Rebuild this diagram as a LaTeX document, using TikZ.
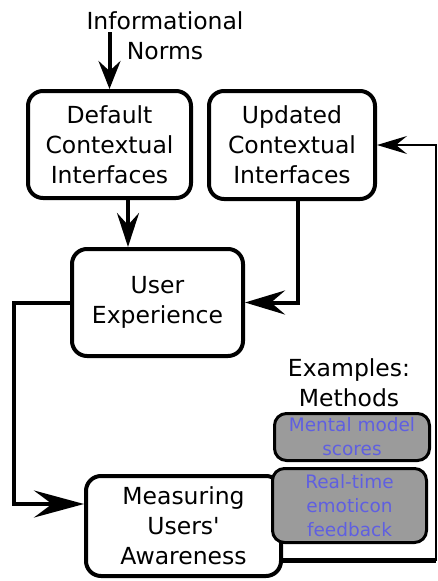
\documentclass[tikz,border=0pt]{standalone}
\usepackage{fontspec}
\setmainfont{DejaVu Sans}
\newfontfamily\qfont{DejaVu Sans}
\usetikzlibrary{arrows.meta}
\definecolor{boxgray}{RGB}{155,155,155}
\definecolor{methblue}{RGB}{95,95,225}
\begin{document}
\begin{tikzpicture}[x=1pt,y=-1pt,
  box/.style={draw, line width=4pt, rounded corners=15pt, align=center,
    font=\fontsize{23.5}{30}\selectfont, inner sep=0pt, fill=white},
  gbox/.style={draw, line width=3pt, rounded corners=12pt, fill=boxgray, align=center,
    text=methblue, font=\fontsize{18.5}{24}\selectfont, inner sep=0pt},
  lbl/.style={align=center, font=\fontsize{23.5}{30}\selectfont, inner sep=0pt},
  conn/.style={line width=4pt},
]
\useasboundingbox (0,0) rectangle (437,581);

\coordinate (in1) at (109.5,32);
\coordinate (d1) at (128,0);
\coordinate (u1) at (298,0);
\coordinate (l1) at (14,504);
\coordinate (r1) at (436,560);

\node[box, minimum width=163pt, minimum height=107pt] (dflt) at (109.5,144.5) {Default\\Contextual\\Interfaces};
\node[box, minimum width=166pt, minimum height=108pt] (upd) at (292,145) {Updated\\Contextual\\Interfaces};
\node[box, minimum width=171pt, minimum height=107pt] (ue) at (157.5,302.5) {User\\Experience};
\node[box, minimum width=195pt, minimum height=100pt] (meas) at (183.5,526) {Measuring\\{\qfont Users'}\\Awareness};

\node[lbl] (norms) at (165,36) {Informational\\Norms};
\node[lbl] (ex) at (349,383) {Examples:\\Methods};

\draw[conn,-{Stealth[length=28pt,width=22pt,inset=10pt]}] (in1) -- (dflt.north);
\draw[conn,-{Stealth[length=34pt,width=22pt,inset=12pt]}] (d1 |- dflt.south) -- (d1 |- ue.north);
\draw[conn,-{Stealth[length=40pt,width=24pt,inset=14pt]}] (u1 |- upd.south) |- (ue.east);
\draw[conn,-{Stealth[length=50pt,width=27pt,inset=18pt]}] (ue.west) -| (l1) -- (meas.west |- l1);
\draw[line width=2pt,-{Stealth[length=30pt,width=18pt,inset=11pt]}] (meas.east |- r1) -- (r1) |- (upd.east);
\draw[line width=5pt] (meas.east |- r1) -- (r1);

\node[gbox, minimum width=155pt, minimum height=47pt] (g1) at (352,437) {Mental model\\scores};
\node[gbox, minimum width=154pt, minimum height=74pt] (g2) at (349.5,505.5) {Real-time\\emoticon\\feedback};
\end{tikzpicture}
\end{document}
